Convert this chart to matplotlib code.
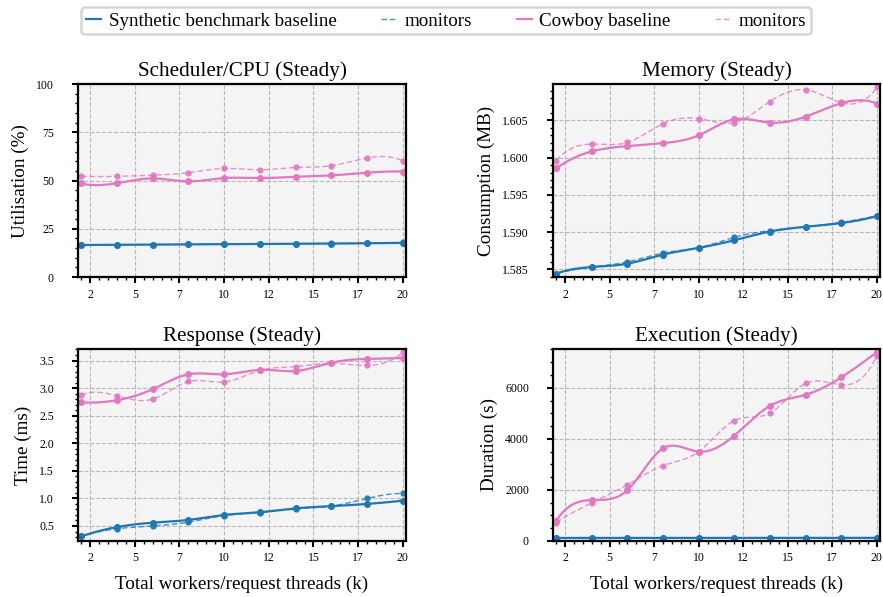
import matplotlib
matplotlib.use("Agg")
import matplotlib.pyplot as plt
import numpy as np
from matplotlib.ticker import MultipleLocator, FormatStrFormatter, FixedLocator

plt.rcParams['font.family'] = ['Liberation Serif', 'DejaVu Serif']

# total workers / request threads (k)
workers = [2, 4, 6, 8, 10, 12, 14, 16, 18, 20]
xtick_vals = [2.5, 5, 7.5, 10, 12.5, 15, 17.5, 20]
xtick_labels = ['2', '5', '7', '10', '12', '15', '17', '20']

# Scheduler/CPU utilisation (%)
cpu_synth = [16.6, 16.7, 16.8, 16.9, 17.0, 17.1, 17.2, 17.3, 17.5, 17.7]
cpu_synth_mon = [16.6, 16.7, 16.8, 16.9, 17.0, 17.1, 17.2, 17.4, 17.6, 17.9]
cpu_cowboy = [48.5, 48.7, 51.1, 49.6, 51.3, 51.3, 52.0, 52.7, 54.1, 54.7]
cpu_cowboy_mon = [52.2, 52.2, 52.8, 54.1, 56.3, 55.6, 56.8, 57.7, 61.7, 60.3]

# Memory consumption (MB)
mem_synth = [1.58442, 1.58531, 1.58576, 1.58698, 1.58788, 1.58891, 1.59008, 1.59071, 1.59121, 1.59215]
mem_synth_mon = [1.58440, 1.58530, 1.58600, 1.58720, 1.58790, 1.58930, 1.59020, 1.59070, 1.59130, 1.59220]
mem_cowboy = [1.59854, 1.60083, 1.60155, 1.60195, 1.60299, 1.60514, 1.60470, 1.60550, 1.60730, 1.60726]
mem_cowboy_mon = [1.59961, 1.60182, 1.60204, 1.60456, 1.60524, 1.60470, 1.60753, 1.60910, 1.60740, 1.60942]

# Response time (ms)
resp_synth = [0.31, 0.48, 0.56, 0.61, 0.70, 0.75, 0.82, 0.86, 0.90, 0.96]
resp_synth_mon = [0.31, 0.45, 0.50, 0.57, 0.69, 0.74, 0.81, 0.86, 1.00, 1.09]
resp_cowboy = [2.74, 2.78, 2.98, 3.25, 3.25, 3.33, 3.31, 3.46, 3.53, 3.55]
resp_cowboy_mon = [2.87, 2.86, 2.80, 3.12, 3.11, 3.32, 3.39, 3.45, 3.41, 3.65]

# Execution duration (s)
exec_synth = [115, 115, 115, 116, 116, 117, 117, 118, 118, 119]
exec_synth_mon = [112, 113, 113, 114, 114, 115, 115, 116, 116, 117]
exec_cowboy = [786, 1598, 1991, 3628, 3497, 4126, 5292, 5724, 6405, 7387]
exec_cowboy_mon = [720, 1493, 2200, 2947, 3497, 4715, 5003, 6169, 6117, 7256]

BLUE = '#1f77b4'
PINK = '#e377c2'


def smooth(x, y, n=300):
    # not-a-knot cubic spline, only used to draw the curve through the points
    x = np.asarray(x, float)
    y = np.asarray(y, float)
    h = np.diff(x)
    N = len(x)
    A = np.zeros((N, N))
    b = np.zeros(N)
    A[0, 0], A[0, 1], A[0, 2] = h[1], -(h[0] + h[1]), h[0]
    A[-1, -3], A[-1, -2], A[-1, -1] = h[-1], -(h[-2] + h[-1]), h[-2]
    for i in range(1, N - 1):
        A[i, i - 1] = h[i - 1]
        A[i, i] = 2 * (h[i - 1] + h[i])
        A[i, i + 1] = h[i]
        b[i] = 6 * ((y[i + 1] - y[i]) / h[i] - (y[i] - y[i - 1]) / h[i - 1])
    M = np.linalg.solve(A, b)
    xs = np.linspace(x[0], x[-1], n)
    idx = np.clip(np.searchsorted(x, xs) - 1, 0, N - 2)
    x0, x1 = x[idx], x[idx + 1]
    hh = x1 - x0
    ys = (M[idx] * (x1 - xs) ** 3 / (6 * hh) + M[idx + 1] * (xs - x0) ** 3 / (6 * hh)
          + (y[idx] / hh - M[idx] * hh / 6) * (x1 - xs)
          + (y[idx + 1] / hh - M[idx + 1] * hh / 6) * (xs - x0))
    return xs, ys


def draw(ax, y, color, monitor=False, label=None):
    xs, ys = smooth(workers, y)
    if monitor:
        ax.plot(xs, ys, color=color, lw=1.0, ls=(0, (4, 2)), alpha=0.8, label=label)
        ax.plot(workers, y, 'o', color=color, ms=3.5, alpha=0.9)
    else:
        ax.plot(xs, ys, color=color, lw=1.6, label=label)
        ax.plot(workers, y, 'o', color=color, ms=4)


panels = [
    ('Scheduler/CPU (Steady)', 'Utilisation (%)', cpu_synth, cpu_synth_mon, cpu_cowboy, cpu_cowboy_mon,
     (0, 100), 25, 5, '%d'),
    ('Memory (Steady)', 'Consumption (MB)', mem_synth, mem_synth_mon, mem_cowboy, mem_cowboy_mon,
     (1.58397, 1.60986), 0.005, 0.001, '%.3f'),
    ('Response (Steady)', 'Time (ms)', resp_synth, resp_synth_mon, resp_cowboy, resp_cowboy_mon,
     (0.23, 3.71), 0.5, 0.1, '%.1f'),
    ('Execution (Steady)', 'Duration (s)', exec_synth, exec_synth_mon, exec_cowboy, exec_cowboy_mon,
     (0, 7520), 2000, 500, '%d'),
]

positions = [
    [0.0883, 0.536, 0.3715, 0.323],
    [0.6263, 0.536, 0.3703, 0.323],
    [0.0883, 0.094, 0.3715, 0.3215],
    [0.6263, 0.094, 0.3703, 0.3215],
]

fig = plt.figure(figsize=(8.83, 5.97), dpi=100)

for k, (title, ylabel, s, sm, c, cm, ylim, major, minor, fmt) in enumerate(panels):
    ax = fig.add_axes(positions[k])
    ax.set_facecolor('#f4f4f4')
    draw(ax, s, BLUE, label='Synthetic benchmark baseline')
    draw(ax, sm, BLUE, monitor=True, label='monitors')
    draw(ax, c, PINK, label='Cowboy baseline')
    draw(ax, cm, PINK, monitor=True, label='monitors')
    ax.set_xlim(1.82, 20.18)
    ax.set_ylim(*ylim)
    ax.xaxis.set_major_locator(FixedLocator(xtick_vals))
    ax.set_xticklabels(xtick_labels)
    ax.xaxis.set_minor_locator(MultipleLocator(0.5))
    ax.yaxis.set_major_locator(MultipleLocator(major))
    ax.yaxis.set_minor_locator(MultipleLocator(minor))
    ax.yaxis.set_major_formatter(FormatStrFormatter(fmt))
    ax.tick_params(which='major', length=4.3, width=1.5, labelsize=8.5, direction='out')
    ax.tick_params(axis='y', which='major', pad=13)
    ax.tick_params(axis='x', which='major', pad=4)
    ax.tick_params(which='minor', length=2.2, width=1.0, direction='out')
    ax.grid(True, which='major', ls='--', color='#b8b8b8', lw=0.8)
    ax.set_axisbelow(True)
    for sp in ax.spines.values():
        sp.set_linewidth(1.6)
    ax.set_title(title, fontsize=15.2, pad=6)
    ax.set_ylabel(ylabel, fontsize=13.8, labelpad=5)
    if k >= 2:
        ax.set_xlabel('Total workers/request threads (k)', fontsize=13.8, labelpad=8)
    if k == 0:
        handles, labels = ax.get_legend_handles_labels()

fig.legend(handles, labels, loc='center', bbox_to_anchor=(0.505, 0.965), ncol=4,
           fontsize=13.7, frameon=True, fancybox=True, edgecolor='#cccccc',
           handlelength=0.8, handletextpad=0.4, columnspacing=2.35, borderpad=0.25)
fig.legends[0].get_frame().set_linewidth(1.8)

fig.savefig('out.png', dpi=100)
